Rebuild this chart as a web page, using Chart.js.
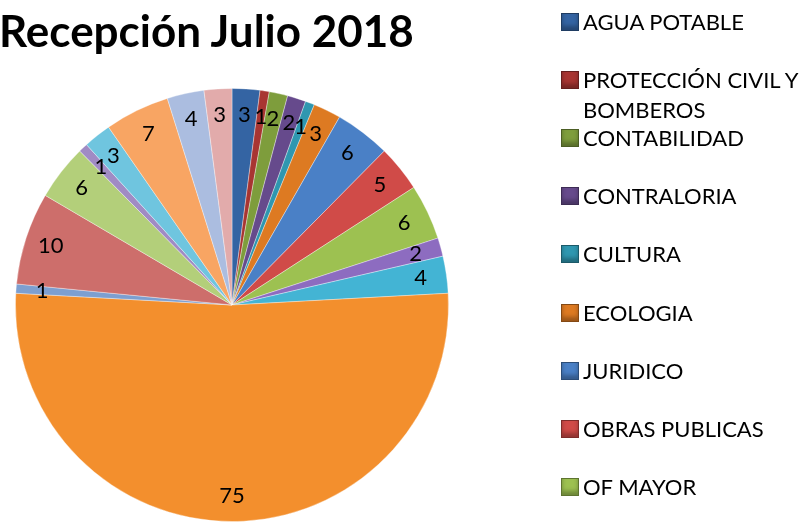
<!DOCTYPE html>
<html>
<head>
<meta charset="utf-8">
<script src="https://cdn.jsdelivr.net/npm/chart.js@4.4.0/dist/chart.umd.min.js"></script>
<style>
    body { margin: 0; background: #fff; overflow: hidden; }
    #wrap { position: relative; width: 808px; height: 525px; font-family: Lato, "Open Sans", sans-serif; }
    #chart { position: absolute; left: 0; top: 0; }
    #title { position: absolute; left: -1px; top: 4px; font-size: 44px; font-weight: bold; color: #000; white-space: nowrap; }
    .item { position: absolute; left: 561px; width: 247px; font-size: 22px; line-height: 30px; color: #000; }
    .item .sw { position: absolute; left: 0; top: 6px; width: 16px; height: 16px; border: 1px solid rgba(0,0,0,0.4); box-shadow: inset 0 -4px 4px rgba(0,0,0,0.3); }
    .item .tx { display: block; margin-left: 22px; }
</style>
</head>
<body>
<div id="wrap">
    <canvas id="chart" width="808" height="525"></canvas>
    <div id="title">Recepción Julio 2018</div>
    <div id="legend"></div>
</div>
<script>
// 图表标题
const chartTitle = 'Recepción Julio 2018';

// 图例中可见的类别（原图图例被截断，只显示前9个）
const categories = [
    'AGUA POTABLE',
    'PROTECCIÓN CIVIL Y BOMBEROS',
    'CONTABILIDAD',
    'CONTRALORIA',
    'CULTURA',
    'ECOLOGIA',
    'JURIDICO',
    'OBRAS PUBLICAS',
    'OF MAYOR'
];

// 各扇区数值（从12点方向顺时针）
const values = [3, 1, 2, 2, 1, 3, 6, 5, 6, 2, 4, 75, 1, 10, 6, 1, 3, 7, 4, 3];

// 扇区颜色
const sliceColors = [
    '#3464a3', '#a83532', '#7e9d3c', '#664a8c', '#2f97b0', '#dd7a22',
    '#4a80c6', '#d04b48', '#9dc151', '#8d6cc0', '#43b4d4', '#f38f2d',
    '#7d9fd0', '#cd6e6b', '#b3cf7a', '#a08bc4', '#6fc5df', '#f8a563',
    '#abbde0', '#e2abab'
];

// 数值标签插件
const valueLabels = {
    id: 'valueLabels',
    afterDatasetsDraw(chart) {
        const ctx = chart.ctx;
        const meta = chart.getDatasetMeta(0);
        ctx.save();
        ctx.font = '22px Lato, "Open Sans", sans-serif';
        ctx.fillStyle = '#000';
        ctx.textAlign = 'center';
        ctx.textBaseline = 'middle';
        meta.data.forEach((arc, i) => {
            const p = arc.getProps(['x', 'y', 'startAngle', 'endAngle', 'outerRadius'], true);
            const mid = (p.startAngle + p.endAngle) / 2;
            const r = p.outerRadius * 0.88;
            ctx.fillText(String(values[i]), p.x + Math.cos(mid) * r, p.y + Math.sin(mid) * r);
        });
        ctx.restore();
    }
};

function createPie() {
    const ctx = document.getElementById('chart').getContext('2d');
    new Chart(ctx, {
        type: 'pie',
        data: {
            labels: categories,
            datasets: [{
                data: values,
                backgroundColor: sliceColors,
                borderColor: 'rgba(255,255,255,0.35)',
                borderWidth: 1
            }]
        },
        options: {
            responsive: false,
            animation: false,
            layout: {
                padding: { left: 15, right: 359, top: 88, bottom: 3 }
            },
            plugins: {
                legend: { display: false },
                title: { display: false },
                tooltip: { enabled: false }
            }
        },
        plugins: [valueLabels]
    });
}

// HTML图例
function createLegend() {
    const box = document.getElementById('legend');
    categories.forEach((name, i) => {
        const item = document.createElement('div');
        item.className = 'item';
        item.style.top = (22 + i * 58.1 - 15) + 'px';
        item.innerHTML = `<span class="sw" style="background:${sliceColors[i]}"></span><span class="tx">${name}</span>`;
        box.appendChild(item);
    });
}

document.getElementById('title').textContent = chartTitle;
createPie();
createLegend();
</script>
</body>
</html>
